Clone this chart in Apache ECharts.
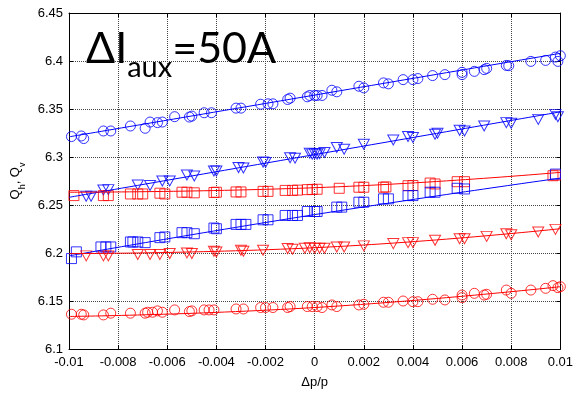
<!DOCTYPE html>
<html>
<head>
<meta charset="utf-8">
<script src="https://cdn.jsdelivr.net/npm/echarts@6/dist/echarts.min.js"></script>
<style>
  html, body { margin: 0; padding: 0; background: #fff; }
  #chart { width: 576px; height: 394px; }
</style>
</head>
<body>
<div id="chart"></div>
<script>
// x-axis range and tick step (dp/p), y-axis range and tick step (tune)
const xRange = [-0.01, 0.01, 0.002];
const yRange = [6.1, 6.45, 0.05];

const blueCircles = [
  [-0.0099,6.3213],[-0.0095,6.3219],[-0.0094,6.3192],[-0.0086,6.3271],[-0.0083,6.3271],
  [-0.0075,6.3323],[-0.0069,6.3299],[-0.0067,6.3364],[-0.0064,6.3358],[-0.0062,6.3364],
  [-0.0057,6.3420],[-0.0051,6.3416],[-0.0050,6.3426],[-0.0045,6.3461],[-0.0042,6.3461],
  [-0.0032,6.3509],[-0.0030,6.3509],[-0.0022,6.3550],[-0.0019,6.3554],[-0.0017,6.3554],
  [-0.0011,6.3599],[-0.0010,6.3613],[-0.0003,6.3627],[-0.0002,6.3641],[0.0000,6.3641],
  [0.0001,6.3641],[0.0003,6.3641],[0.0007,6.3695],[0.0009,6.3679],[0.0018,6.3737],
  [0.0020,6.3720],[0.0028,6.3772],[0.0030,6.3762],[0.0036,6.3806],[0.0040,6.3806],
  [0.0042,6.3817],[0.0048,6.3848],[0.0053,6.3858],[0.0060,6.3882],[0.0060,6.3858],
  [0.0065,6.3892],[0.0069,6.3910],[0.0070,6.3923],[0.0078,6.3954],[0.0079,6.3951],
  [0.0088,6.3996],[0.0094,6.4006],[0.0098,6.4041],[0.0099,6.3996],[0.0100,6.4055]
];
const blueTriangles = [
  [-0.0093,6.2592],[-0.0091,6.2592],[-0.0086,6.2657],[-0.0084,6.2660],[-0.0072,6.2709],
  [-0.0067,6.2703],[-0.0062,6.2750],[-0.0059,6.2750],[-0.0052,6.2812],[-0.0049,6.2802],
  [-0.0041,6.2854],[-0.0040,6.2854],[-0.0031,6.2890],[-0.0029,6.2885],[-0.0021,6.2947],
  [-0.0020,6.2944],[-0.0010,6.2993],[-0.0008,6.2988],[-0.0002,6.3040],[-0.0001,6.3030],
  [0.0000,6.3035],[0.0001,6.3030],[0.0002,6.3035],[0.0004,6.3047],[0.0009,6.3099],
  [0.0012,6.3081],[0.0020,6.3133],[0.0032,6.3178],[0.0038,6.3213],[0.0040,6.3203],
  [0.0049,6.3237],[0.0050,6.3247],[0.0059,6.3278],[0.0061,6.3271],[0.0069,6.3323],
  [0.0078,6.3358],[0.0080,6.3351],[0.0091,6.3392],[0.0098,6.3444],[0.0099,6.3420]
];
const redSquares = [
  [-0.0098,6.2598],[-0.0086,6.2598],[-0.0084,6.2598],[-0.0075,6.2615],[-0.0072,6.2615],
  [-0.0070,6.2615],[-0.0063,6.2623],[-0.0061,6.2615],[-0.0054,6.2633],[-0.0052,6.2633],
  [-0.0049,6.2627],[-0.0041,6.2630],[-0.0040,6.2633],[-0.0032,6.2636],[-0.0030,6.2636],
  [-0.0021,6.2642],[-0.0019,6.2642],[-0.0012,6.2652],[-0.0009,6.2652],[-0.0007,6.2655],
  [-0.0003,6.2660],[-0.0001,6.2662],[0.0001,6.2664],[0.0010,6.2674],[0.0018,6.2685],
  [0.0020,6.2685],[0.0028,6.2685],[0.0029,6.2688],[0.0038,6.2701],[0.0040,6.2703],
  [0.0047,6.2729],[0.0049,6.2719],[0.0058,6.2743],[0.0061,6.2743],[0.0097,6.2805],
  [0.0098,6.2812]
];
const blueSquares = [
  [-0.0099,6.1942],[-0.0097,6.2012],[-0.0087,6.2063],[-0.0085,6.2063],[-0.0083,6.2063],
  [-0.0075,6.2115],[-0.0074,6.2115],[-0.0072,6.2115],[-0.0069,6.2108],[-0.0063,6.2160],
  [-0.0061,6.2167],[-0.0054,6.2212],[-0.0052,6.2212],[-0.0049,6.2201],[-0.0041,6.2260],
  [-0.0040,6.2253],[-0.0032,6.2298],[-0.0030,6.2298],[-0.0028,6.2298],[-0.0021,6.2346],
  [-0.0019,6.2346],[-0.0012,6.2391],[-0.0009,6.2391],[-0.0007,6.2391],[-0.0003,6.2432],
  [0.0000,6.2432],[0.0001,6.2432],[0.0009,6.2478],[0.0011,6.2478],[0.0018,6.2529],
  [0.0020,6.2529],[0.0028,6.2564],[0.0030,6.2564],[0.0038,6.2598],[0.0040,6.2598],
  [0.0047,6.2633],[0.0049,6.2633],[0.0058,6.2674],[0.0061,6.2667],[0.0098,6.2822]
];
const redTriangles = [
  [-0.0093,6.1970],[-0.0086,6.1970],[-0.0084,6.1970],[-0.0072,6.1984],[-0.0067,6.1984],
  [-0.0063,6.1984],[-0.0059,6.1994],[-0.0052,6.2001],[-0.0050,6.1994],[-0.0041,6.2018],
  [-0.0040,6.2011],[-0.0030,6.2029],[-0.0029,6.2018],[-0.0021,6.2029],[-0.0011,6.2046],
  [-0.0009,6.2039],[-0.0004,6.2050],[-0.0002,6.2055],[0.0000,6.2050],[0.0002,6.2050],
  [0.0004,6.2050],[0.0009,6.2063],[0.0012,6.2063],[0.0020,6.2074],[0.0032,6.2098],
  [0.0038,6.2108],[0.0040,6.2108],[0.0049,6.2132],[0.0059,6.2149],[0.0061,6.2149],
  [0.0070,6.2173],[0.0078,6.2201],[0.0080,6.2191],[0.0091,6.2219],[0.0098,6.2246]
];
const redCircles = [
  [-0.0099,6.1362],[-0.0095,6.1362],[-0.0094,6.1355],[-0.0086,6.1355],[-0.0083,6.1373],
  [-0.0075,6.1373],[-0.0069,6.1373],[-0.0068,6.1383],[-0.0066,6.1383],[-0.0064,6.1397],
  [-0.0062,6.1383],[-0.0057,6.1407],[-0.0051,6.1390],[-0.0050,6.1397],[-0.0045,6.1407],
  [-0.0043,6.1407],[-0.0041,6.1407],[-0.0032,6.1417],[-0.0029,6.1417],[-0.0022,6.1432],
  [-0.0020,6.1432],[-0.0017,6.1432],[-0.0011,6.1432],[-0.0010,6.1442],[-0.0003,6.1442],
  [-0.0001,6.1442],[0.0001,6.1442],[0.0003,6.1432],[0.0007,6.1459],[0.0009,6.1442],
  [0.0018,6.1459],[0.0020,6.1466],[0.0028,6.1487],[0.0030,6.1487],[0.0036,6.1500],
  [0.0040,6.1493],[0.0042,6.1493],[0.0048,6.1518],[0.0053,6.1511],[0.0060,6.1562],
  [0.0060,6.1535],[0.0065,6.1580],[0.0069,6.1562],[0.0070,6.1570],[0.0078,6.1614],
  [0.0080,6.1580],[0.0088,6.1614],[0.0094,6.1632],[0.0097,6.1660],[0.0099,6.1639],
  [0.0100,6.1649]
];

// fitted curves: Q read at dp/p = -0.01, 0 and +0.01
const fitX = [-0.01, 0, 0.01];
const fitBlueCircles = [6.321, 6.3645, 6.408];
const fitBlueTriangles = [6.258, 6.3025, 6.347];
const fitRedSquares = [6.2633, 6.268, 6.284];
const fitBlueSquares = [6.197, 6.240, 6.278];
const fitRedTriangles = [6.1994, 6.2055, 6.2253];
const fitRedCircles = [6.1339, 6.1432, 6.1649];

const BLUE = '#0000ff';
const RED = '#ff0000';
const FONT = 'Liberation Sans, Arial, sans-serif';

function markers(data, color, symbol) {
  return {
    type: 'scatter',
    data: data,
    symbol: symbol,
    symbolSize: symbol === 'triangle' ? [11, 10] : 10,
    symbolRotate: symbol === 'triangle' ? 180 : 0,
    itemStyle: { color: 'none', borderColor: color, borderWidth: 1 },
    silent: true,
    z: 3
  };
}
function fit(ys, color) {
  return {
    type: 'line',
    data: fitX.map((x, i) => [x, ys[i]]),
    symbol: 'none',
    smooth: 0.5,
    lineStyle: { color: color, width: 1 },
    silent: true,
    z: 4
  };
}

const chart = echarts.init(document.getElementById('chart'));
const baseAxis = {
  axisLine: { show: true, onZero: false, lineStyle: { color: '#000', width: 1 } },
  axisTick: { show: true, inside: true, length: 4, lineStyle: { color: '#000' } }
};

chart.setOption({
  animation: false,
  grid: { left: 69, right: 12, top: 13, bottom: 42 },
  xAxis: [
    Object.assign({}, baseAxis, {
      type: 'value', min: xRange[0], max: xRange[1], interval: xRange[2],
      name: 'Δp/p', nameLocation: 'middle', nameGap: 27,
      nameTextStyle: { fontFamily: FONT, fontSize: 13, color: '#000' },
      axisLabel: { fontFamily: FONT, fontSize: 13, color: '#000', margin: 7,
        formatter: v => String(+v.toFixed(3)) },
      splitLine: { show: true, lineStyle: { color: '#444', type: 'dotted', width: 1 } }
    }),
    Object.assign({}, baseAxis, {
      type: 'value', position: 'top', min: xRange[0], max: xRange[1], interval: xRange[2],
      axisLabel: { show: false }, splitLine: { show: false }
    })
  ],
  yAxis: [
    Object.assign({}, baseAxis, {
      type: 'value', min: yRange[0], max: yRange[1], interval: yRange[2],
      name: '{a|Q}{s|h}{a|, Q}{s|v}', nameLocation: 'middle', nameGap: 44,
      nameTextStyle: {
        fontFamily: FONT, color: '#000',
        rich: {
          a: { fontFamily: FONT, fontSize: 13, lineHeight: 16, verticalAlign: 'top', color: '#000' },
          s: { fontFamily: FONT, fontSize: 9, lineHeight: 9, padding: [9, 0, 0, 0], verticalAlign: 'top', color: '#000' }
        }
      },
      axisLabel: { fontFamily: FONT, fontSize: 13, color: '#000', margin: 6,
        formatter: v => String(+v.toFixed(2)) },
      splitLine: { show: true, lineStyle: { color: '#444', type: 'dotted', width: 1 } }
    }),
    Object.assign({}, baseAxis, {
      type: 'value', position: 'right', min: yRange[0], max: yRange[1], interval: yRange[2],
      axisLabel: { show: false }, splitLine: { show: false }
    })
  ],
  graphic: [{
    type: 'text', left: 86, top: 28, z: 10,
    style: {
      text: '{a|ΔI}{s|aux}{a|=50A}',
      rich: {
        a: { fontFamily: 'Lato, sans-serif', fontSize: 43, lineHeight: 46, verticalAlign: 'top', fill: '#000' },
        s: { fontFamily: 'Lato, sans-serif', fontSize: 29, lineHeight: 29, padding: [25, 0, 0, 0], verticalAlign: 'top', fill: '#000' }
      }
    }
  }],
  series: [
    markers(blueCircles, BLUE, 'circle'),
    markers(blueTriangles, BLUE, 'triangle'),
    markers(redSquares, RED, 'rect'),
    markers(blueSquares, BLUE, 'rect'),
    markers(redTriangles, RED, 'triangle'),
    markers(redCircles, RED, 'circle'),
    fit(fitBlueCircles, BLUE),
    fit(fitBlueTriangles, BLUE),
    fit(fitRedSquares, RED),
    fit(fitBlueSquares, BLUE),
    fit(fitRedTriangles, RED),
    fit(fitRedCircles, RED)
  ]
});
</script>
</body>
</html>
